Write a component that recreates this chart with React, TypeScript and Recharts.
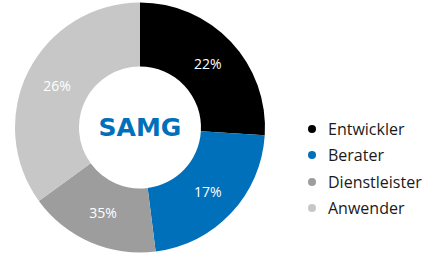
import { PieChart, Pie, Cell, Legend, Label } from "recharts";

const groups = ["Entwickler", "Berater", "Dienstleister", "Anwender"];
// slice sizes as drawn (angles)
const shares = [26, 22, 17, 35];
// percentage texts printed on the slices
const sliceLabels = ["22%", "17%", "35%", "26%"];
const colors = ["#000000", "#0070ba", "#9d9d9d", "#c6c7c6"];
const centerText = "SAMG";

const data = groups.map((name, i) => ({ name, value: shares[i], text: sliceLabels[i] }));

const RAD = Math.PI / 180;

const renderSliceLabel = (p: any) => {
  const r = (p.innerRadius + p.outerRadius) / 2;
  const x = p.cx + r * Math.cos(-p.midAngle * RAD);
  const y = p.cy + r * Math.sin(-p.midAngle * RAD);
  return (
    <text x={x} y={y} fill="#fff" fontSize={14} fontFamily="Open Sans" textAnchor="middle" dominantBaseline="central">
      {sliceLabels[p.index]}
    </text>
  );
};

const renderLegend = () => (
  <div>
    {groups.map((g, i) => (
      <div key={g} style={{ display: "flex", alignItems: "center", height: 26.3 }}>
        <span style={{ width: 8, height: 8, borderRadius: 4, background: colors[i], marginRight: 12 }} />
        <span style={{ fontFamily: "Open Sans", fontSize: 16, color: "#1a1a1a" }}>{g}</span>
      </div>
    ))}
  </div>
);

export default function App() {
  return (
    <div style={{ position: "absolute", left: 0, top: 0, width: 436, height: 254, background: "#fff" }}>
      <PieChart width={436} height={254} margin={{ top: 0, right: 0, bottom: 0, left: 0 }}>
        <Pie
          data={data}
          dataKey="value"
          nameKey="name"
          cx={140}
          cy={127.5}
          innerRadius={61}
          outerRadius={125}
          startAngle={90}
          endAngle={-270}
          stroke="none"
          label={renderSliceLabel}
          labelLine={false}
          isAnimationActive={false}
        >
          {data.map((d, i) => (
            <Cell key={d.name} fill={colors[i]} />
          ))}
          <Label
            position="center"
            content={(props: any) => (
              <text x={140} y={127.5} fill="#0070ba" fontSize={25} fontWeight="bold" fontFamily="DejaVu Sans" textAnchor="middle" dominantBaseline="central">
                {centerText}
              </text>
            )}
          />
        </Pie>
        <Legend content={renderLegend} wrapperStyle={{ position: "absolute", left: 308, top: 116, width: 128 }} />
      </PieChart>
    </div>
  );
}
